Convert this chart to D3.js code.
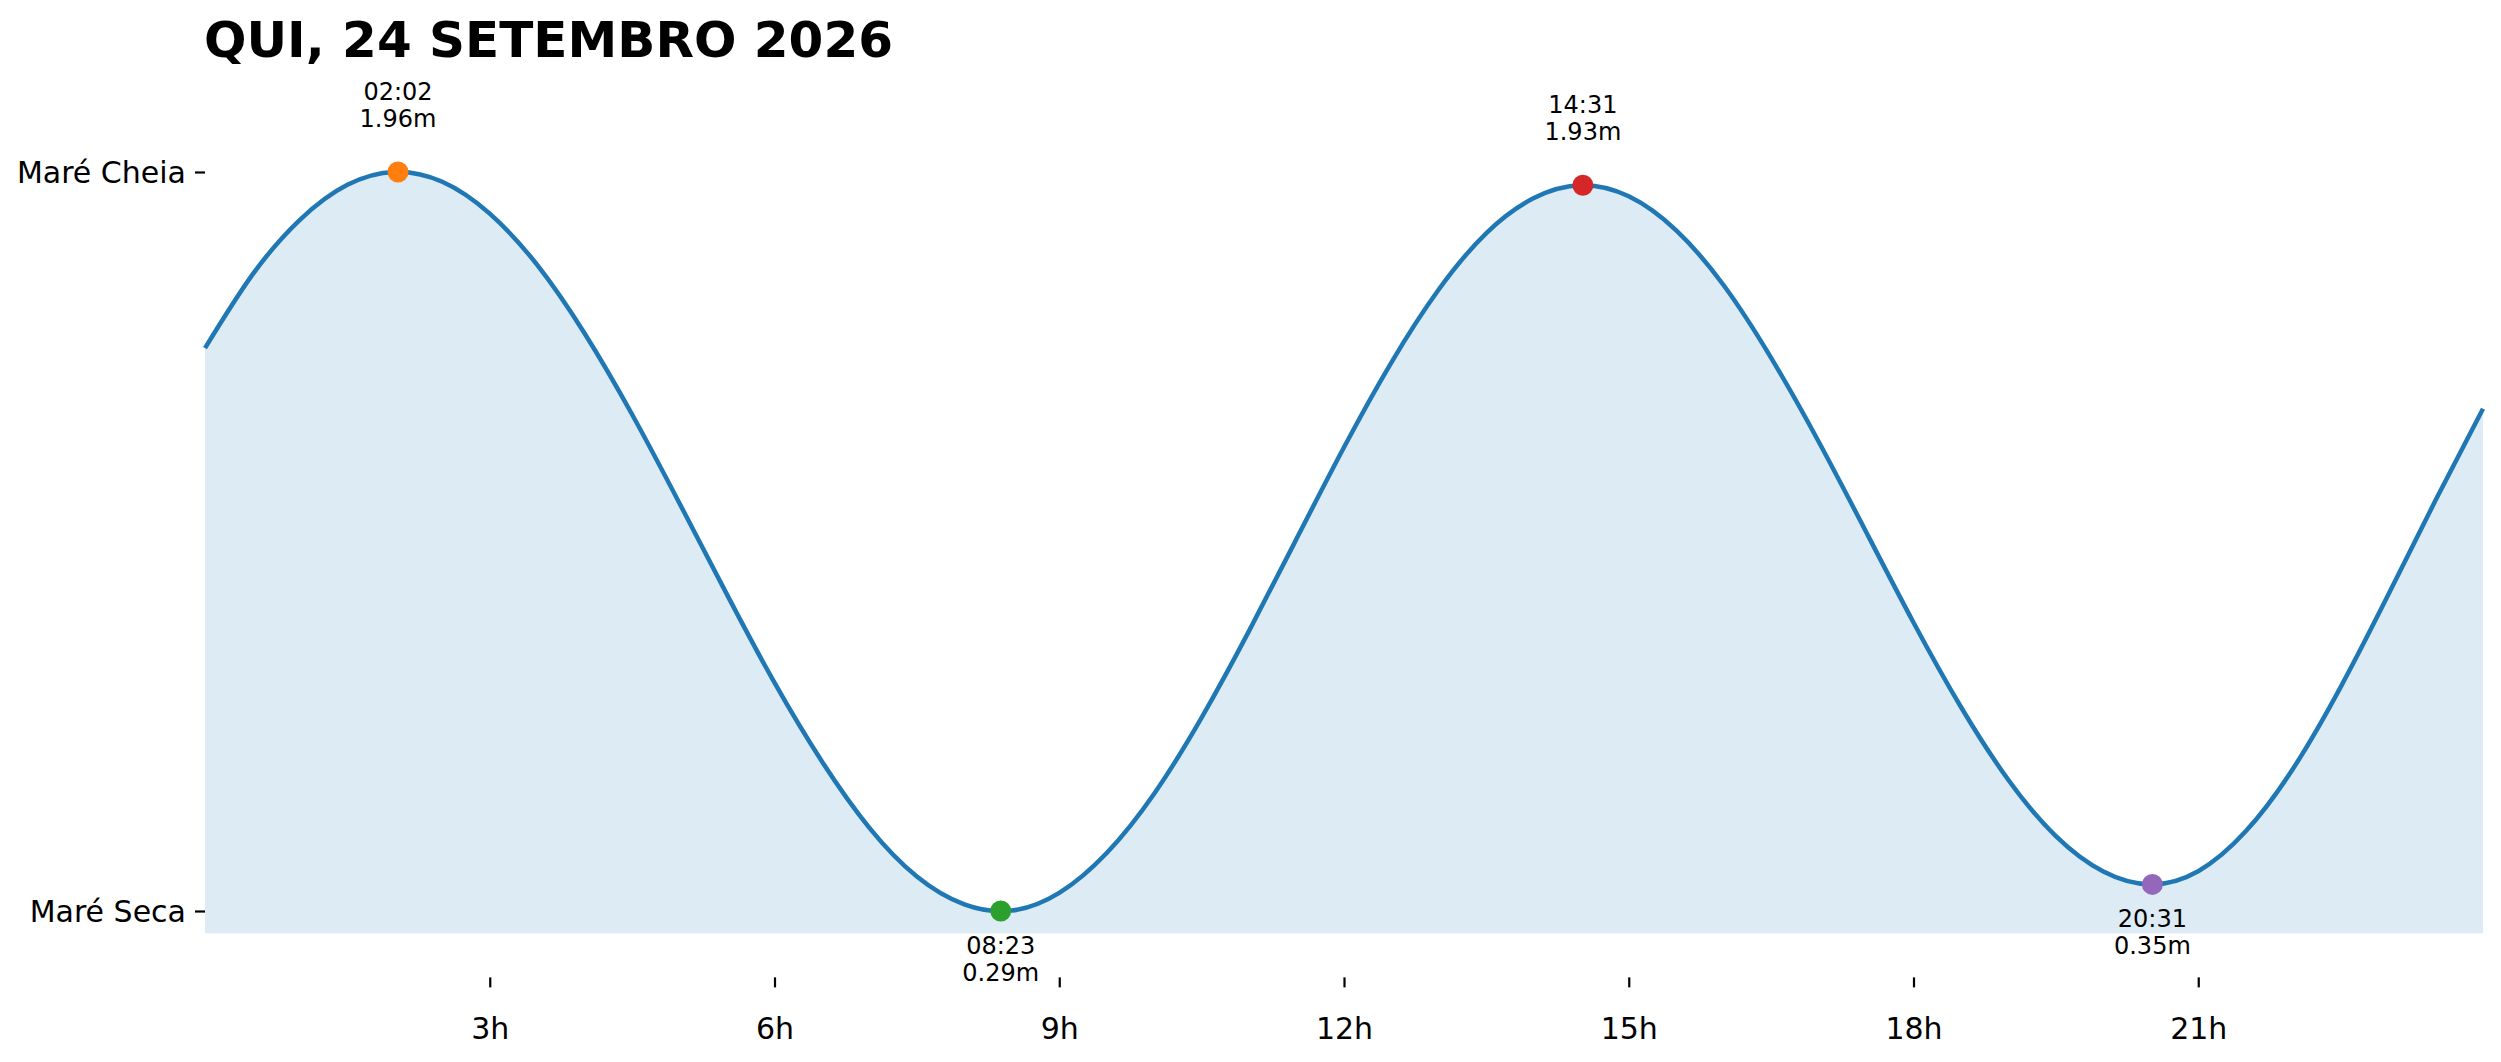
<!DOCTYPE html>
<html>
<head>
<meta charset="utf-8">
<script src="https://cdn.jsdelivr.net/npm/d3@7"></script>
<style>
  html, body { margin: 0; padding: 0; background: #fff; }
  svg { display: block; font-family: "DejaVu Sans", sans-serif; }
</style>
</head>
<body>
<svg id="chart" width="2501" height="1062"></svg>
<script>
// ---- data ----
const title = "QUI, 24 SETEMBRO 2026";
// tide height (m) every half hour
const hours = [0,0.5,1,1.5,2,2.5,3,3.5,4,4.5,5,5.5,6,6.5,7,7.5,8,8.5,9,9.5,10,10.5,11,11.5,12,
               12.5,13,13.5,14,14.5,15,15.5,16,16.5,17,17.5,18,18.5,19,19.5,20,20.5,21,21.5,22,22.5,23,23.5,24];
const heights = [1.562,1.728,1.852,1.931,1.960,1.938,1.866,1.750,1.595,1.412,1.211,1.005,0.806,0.628,0.478,0.368,0.305,0.291,0.331,0.421,0.555,0.727,0.923,1.131,1.338,
                 1.530,1.695,1.822,1.901,1.930,1.905,1.828,1.704,1.540,1.351,1.147,0.942,0.751,0.586,0.459,0.379,0.350,0.380,0.470,0.612,0.796,1.004,1.218,1.425];
const extremeTimes = ["02:02","08:23","14:31","20:31"];
const extremeHeights = [1.96,0.29,1.93,0.35];
const extremeKinds = ["high","low","high","low"];
const extremeColors = ["#ff7f0e","#2ca02c","#d62728","#9467bd"];
const xTickValues = [3,6,9,12,15,18,21];
const yTickLabels = ["Maré Seca","Maré Cheia"];

// ---- build tables ----
const toHours = s => { const [h,m] = s.split(":").map(Number); return h + m/60; };
const extremes = extremeTimes.map((t,i) => ({t: toHours(t), label: t, h: extremeHeights[i], kind: extremeKinds[i], color: extremeColors[i]}));
const series = hours.map((t,i) => ({t, h: heights[i]}));

const hMin = d3.min(extremeHeights), hMax = d3.max(extremeHeights);

const svg = d3.select("#chart");
const x = d3.scaleLinear().domain([0,24]).range([205,2483]);
const y = d3.scaleLinear().domain([hMin,hMax]).range([911,172]);
const fillBase = hMin - 0.05;
const axisLevel = hMin - 0.15;

// area
svg.append("path")
  .datum(series)
  .attr("fill", "rgb(221,235,244)")
  .attr("d", d3.area().x(d => x(d.t)).y0(y(fillBase)).y1(d => y(d.h)).curve(d3.curveNatural));

// line
svg.append("path")
  .datum(series)
  .attr("fill", "none")
  .attr("stroke", "#1f77b4")
  .attr("stroke-width", 4.5)
  .attr("stroke-linejoin", "round")
  .attr("d", d3.line().x(d => x(d.t)).y(d => y(d.h)).curve(d3.curveNatural));

// markers
svg.selectAll("circle.ext").data(extremes).enter().append("circle")
  .attr("class","ext")
  .attr("cx", d => x(d.t)).attr("cy", d => y(d.h)).attr("r", 10.5)
  .attr("fill", d => d.color);

// annotations
const ann = svg.selectAll("g.ann").data(extremes).enter().append("g").attr("class","ann")
  .attr("transform", d => `translate(${x(d.t)},${y(d.h)})`);
ann.append("text")
  .attr("text-anchor","middle").attr("font-size",24).attr("fill","#000")
  .attr("y", d => d.kind === "high" ? -72 : 42.5)
  .text(d => d.label);
ann.append("text")
  .attr("text-anchor","middle").attr("font-size",24).attr("fill","#000")
  .attr("y", d => d.kind === "high" ? -45 : 70)
  .text(d => d.h.toFixed(2) + "m");

// y axis
const yAxis = d3.axisLeft(y).tickValues([hMin,hMax]).tickFormat((d,i) => yTickLabels[i]).tickSize(10).tickPadding(9);
const gy = svg.append("g").attr("transform", `translate(${x(0)},0)`).call(yAxis);
gy.select(".domain").remove();
gy.selectAll("line").attr("stroke","#000").attr("stroke-width",2.2);
gy.selectAll("text").attr("font-size",30).attr("fill","#000").attr("font-family","DejaVu Sans").attr("dy","0.34em");

// x axis
const xAxis = d3.axisBottom(x).tickValues(xTickValues).tickFormat(d => d + "h").tickSize(10).tickPadding(30);
const gx = svg.append("g").attr("transform", `translate(0,${y(axisLevel)})`).call(xAxis);
gx.select(".domain").remove();
gx.selectAll("line").attr("stroke","#000").attr("stroke-width",2.2);
gx.selectAll("text").attr("font-size",30).attr("fill","#000").attr("font-family","DejaVu Sans");

// title
svg.append("text")
  .attr("x", 204).attr("y", 57)
  .attr("font-size", 50).attr("font-weight","bold").attr("fill","#000")
  .text(title);
</script>
</body>
</html>
